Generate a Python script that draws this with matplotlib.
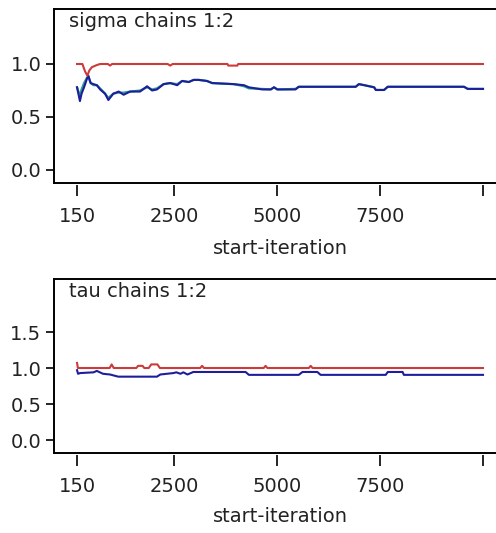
import matplotlib
matplotlib.use('Agg')
import matplotlib.pyplot as plt

# sigma: BGR diagnostic, iterations vs ratio
sig_x = [150, 220, 260, 320, 390, 425, 480, 550, 630, 710, 830, 910, 1030, 1160, 1280,
         1440, 1680, 1850, 1970, 2090, 2250, 2410, 2580, 2700, 2860, 2980, 3100, 3300,
         3430, 3950, 4200, 4320, 4640, 4850, 4930, 5010, 5450, 5530, 6550, 6910, 6990,
         7120, 7360, 7400, 7600, 7690, 8810, 9540, 9630, 10000]
sig_blue = [0.78, 0.65, 0.72, 0.78, 0.86, 0.89, 0.82, 0.81, 0.80, 0.76, 0.72, 0.66, 0.72,
            0.74, 0.71, 0.74, 0.74, 0.79, 0.75, 0.76, 0.81, 0.82, 0.80, 0.84, 0.83, 0.85,
            0.85, 0.84, 0.82, 0.81, 0.80, 0.78, 0.76, 0.76, 0.78, 0.76, 0.76, 0.785, 0.785,
            0.785, 0.81, 0.80, 0.78, 0.755, 0.755, 0.785, 0.785, 0.785, 0.765, 0.765]
sig_green = [0.78, 0.70, 0.76, 0.82, 0.87, 0.88, 0.82, 0.80, 0.80, 0.77, 0.72, 0.68, 0.72,
             0.73, 0.73, 0.74, 0.75, 0.78, 0.76, 0.77, 0.81, 0.82, 0.81, 0.84, 0.83, 0.85,
             0.85, 0.84, 0.82, 0.81, 0.79, 0.77, 0.765, 0.76, 0.78, 0.76, 0.765, 0.785, 0.785,
             0.785, 0.81, 0.80, 0.78, 0.755, 0.755, 0.785, 0.785, 0.785, 0.765, 0.765]
sig_rx = [150, 280, 345, 400, 450, 510, 630, 710, 900, 950, 1000, 2350, 2410, 2470,
          3800, 3820, 4040, 4060, 10000]
sig_red = [1.0, 1.0, 0.93, 0.89, 0.94, 0.97, 0.99, 1.0, 1.0, 0.985, 1.0, 1.0, 0.985, 1.0,
           1.0, 0.985, 0.985, 1.0, 1.0]

# tau
tau_bx = [150, 175, 225, 550, 630, 780, 950, 1150, 2090, 2170, 2490, 2560, 2660, 2730,
          2830, 2970, 4240, 4320, 5530, 5620, 5980, 6060, 7640, 7690, 8050, 8080, 10000]
tau_blue = [0.97, 0.92, 0.93, 0.94, 0.96, 0.92, 0.91, 0.88, 0.88, 0.91, 0.93, 0.94, 0.92,
            0.94, 0.91, 0.945, 0.945, 0.905, 0.905, 0.945, 0.945, 0.905, 0.905, 0.945,
            0.945, 0.905, 0.905]
tau_rx = [150, 170, 200, 940, 990, 1040, 1590, 1630, 1740, 1780, 1890, 1950, 2100, 2160,
          3140, 3184, 3230, 4680, 4724, 4770, 5775, 5819, 5865, 10000]
tau_red = [1.07, 1.0, 1.0, 1.0, 1.05, 1.0, 1.0, 1.03, 1.03, 1.0, 1.0, 1.05, 1.05, 1.0,
           1.0, 1.03, 1.0, 1.0, 1.03, 1.0, 1.0, 1.03, 1.0, 1.0]

xticks = [150, 2500, 5000, 7500, 10000]
xticklabels = ['150', '2500', '5000', '7500', '']

RED = '#cc3a3a'
BLUE = '#1e1e9c'
GREEN = '#2aa58a'

plt.rcParams['font.family'] = ['DejaVu Sans']
fig = plt.figure(figsize=(4.96, 5.33), dpi=100)

def panel(rect, title, ylim, yticks, ylabels):
    ax = fig.add_axes(rect)
    ax.set_xlim(-409, 10340)
    ax.set_ylim(*ylim)
    ax.spines['right'].set_visible(False)
    for s in ['top', 'left', 'bottom']:
        ax.spines[s].set_linewidth(1.4)
    ax.set_yticks(yticks)
    ax.set_yticklabels(ylabels)
    ax.tick_params(axis='y', direction='out', length=6, width=1.2, pad=3, labelsize=14,
                   labelcolor='#222222')
    ax.set_xticks([])
    sec = ax.secondary_xaxis(-0.012)
    sec.spines['bottom'].set_visible(False)
    sec.set_xticks(xticks)
    sec.set_xticklabels(xticklabels)
    sec.tick_params(axis='x', direction='out', length=8, width=1.2, pad=8, labelsize=14,
                    labelcolor='#222222')
    ax.text(0.034, 0.98, title, transform=ax.transAxes, ha='left', va='top', fontsize=14,
            color='#222222')
    return ax

ax1 = panel([54 / 496, 1 - 183 / 533, 443 / 496, 174 / 533], 'sigma chains 1:2',
            (-0.123, 1.519), [0.0, 0.5, 1.0], ['0.0', '0.5', '1.0'])
ax1.plot(sig_x, sig_green, color=GREEN, lw=1.6)
ax1.plot(sig_x, sig_blue, color=BLUE, lw=1.5)
ax1.plot(sig_rx, sig_red, color=RED, lw=1.5)

ax2 = panel([54 / 496, 1 - 453 / 533, 443 / 496, 174 / 533], 'tau chains 1:2',
            (-0.18, 2.236), [0.0, 0.5, 1.0, 1.5], ['0.0', '0.5', '1.0', '1.5'])
ax2.plot(tau_bx, tau_blue, color=BLUE, lw=1.5)
ax2.plot(tau_rx, tau_red, color=RED, lw=1.5)

fig.text(280 / 496, 1 - 248 / 533, 'start-iteration', ha='center', va='center', fontsize=14,
         color='#222222')
fig.text(280 / 496, 1 - 517 / 533, 'start-iteration', ha='center', va='center', fontsize=14,
         color='#222222')

fig.savefig('out.png', dpi=100)
